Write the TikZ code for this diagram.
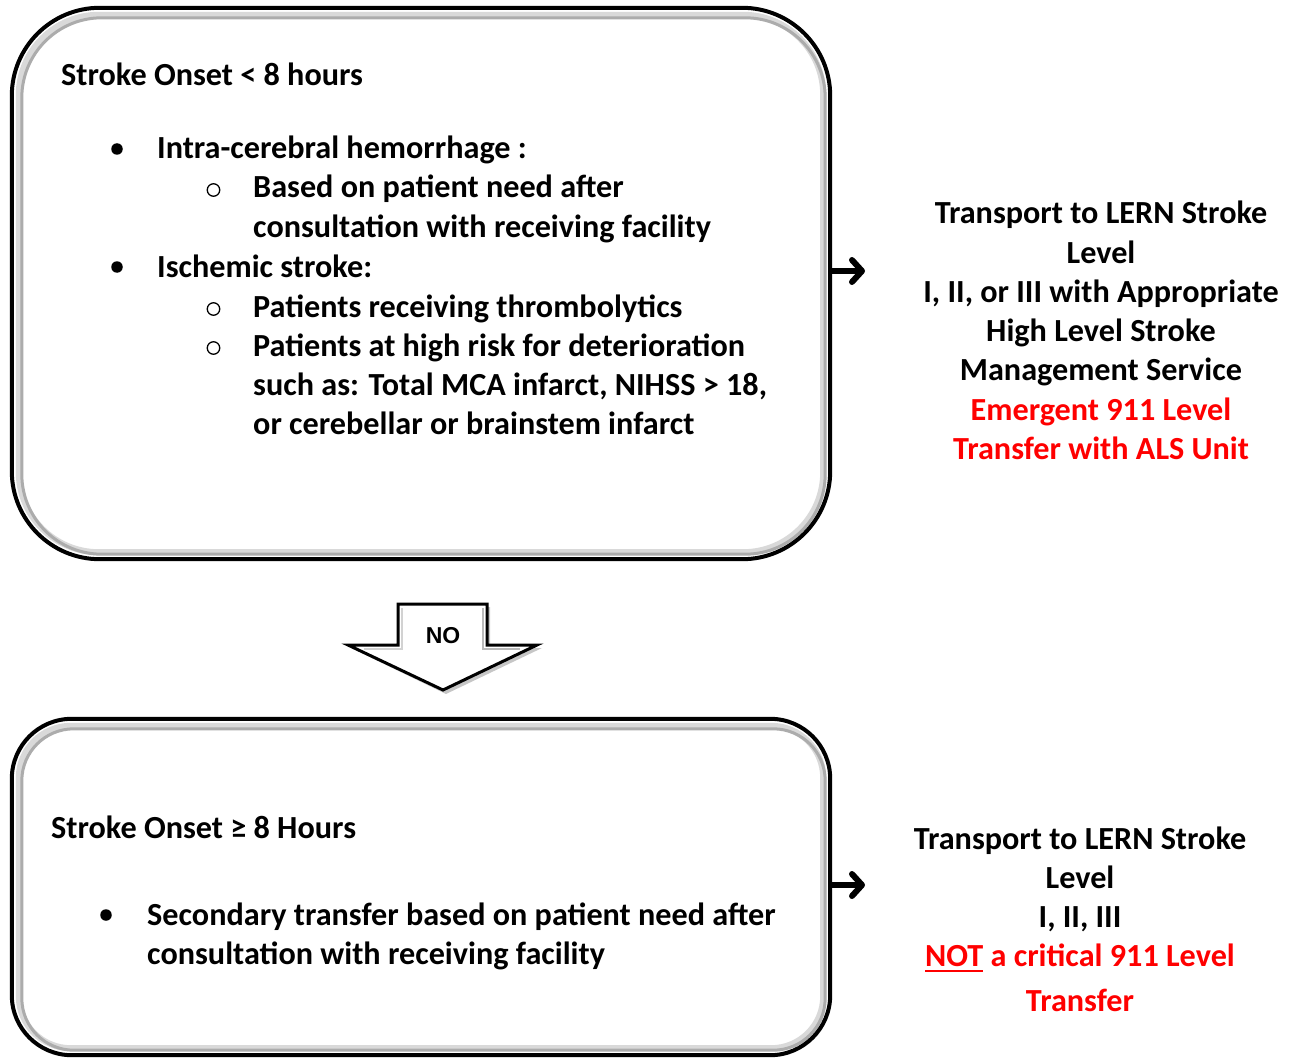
\documentclass[tikz,border=0pt]{standalone}
\usepackage{fontspec}
\setmainfont{Carlito}
\newfontfamily\arialf{Liberation Sans}
\usetikzlibrary{arrows.meta}
\definecolor{rred}{RGB}{255,0,0}
\newcommand\redul[1]{\setbox0\hbox{#1}\rlap{\color{rred}\rule[-6pt]{\wd0}{2.5pt}}\box0\relax}
\begin{document}
\begin{tikzpicture}[x=1pt,y=-1pt,
  txt/.style={font=\fontsize{32.2}{39}\selectfont\bfseries, inner sep=0pt, anchor=base west},
  ctr/.style={txt, anchor=base},
  bul/.style={circle, fill=black, inner sep=0pt, minimum size=11.5pt},
  circ/.style={circle, draw=black, line width=1.3pt, inner sep=0pt, minimum size=12.5pt},
  redtxt/.style={text=rred},
  boxfill/.style={fill=white, inner sep=0pt},
  boxline/.style={line width=4pt, black},
  bevlight/.style={line width=6pt, gray!30},
  bevdark/.style={line width=3pt, gray!65},
  side/.style={line width=5.5pt, -{Straight Barb[length=10pt,width=22pt,line width=6pt,round]}}
]
\useasboundingbox (0,0) rectangle (1300,1059);

% ---------- top box ----------
\node[boxfill, minimum width=818pt, minimum height=551pt] (topbox) at (421,283.5) {};
\draw[bevlight, rounded corners=80pt] ([shift={(7,7)}]topbox.north west) rectangle ([shift={(-7,-7)}]topbox.south east);
\draw[bevdark, rounded corners=80pt] ([shift={(10,10)}]topbox.north west) rectangle ([shift={(-5,-5)}]topbox.south east);
\draw[boxline, rounded corners=88pt] (topbox.north west) rectangle (topbox.south east);

\node[txt] (t0) at (61,86) {Stroke Onset < 8 hours};
\node[bul] (b1) at (117,149) {};
\node[txt] (t1) at (157,159) {Intra-cerebral hemorrhage :};
\node[circ] (c1) at (213.5,190) {};
\node[txt] (t2) at (253,198) {Based on patient need after};
\node[txt] (t3) at (253,237) {consultation with receiving facility};
\node[bul] (b2) at (117,267) {};
\node[txt] (t4) at (157,277) {Ischemic stroke:};
\node[circ] (c2) at (213.5,309) {};
\node[txt] (t5) at (253,317) {Patients receiving thrombolytics};
\node[circ] (c3) at (213.5,348) {};
\node[txt] (t6) at (253,356) {Patients at high risk for deterioration};
\node[txt] (t7) at (253,395) {such as: Total MCA infarct, NIHSS > 18,};
\node[txt] (t8) at (253,434) {or cerebellar or brainstem infarct};

% ---------- right text top ----------
\node[ctr] (r1) at (1101,224) {Transport to LERN Stroke};
\node[ctr] (r2) at (1101,263) {Level};
\node[ctr] (r3) at (1101,302) {I, II, or III with Appropriate};
\node[ctr] (r4) at (1101,341) {High Level Stroke};
\node[ctr] (r5) at (1101,380) {Management Service};
\node[ctr, redtxt] (r6) at (1101,420) {Emergent 911 Level};
\node[ctr, redtxt] (r7) at (1101,459) {Transfer with ALS Unit};

\coordinate (a1) at (865,271);
\draw[side] (topbox.east |- a1) -- (a1);

% ---------- NO arrow ----------
\fill[gray!45] (401,607) -- (490,607) -- (490,648) -- (542,648) -- (446,694) -- (351,648) -- (401,648) -- cycle;
\draw[line width=3pt, fill=white, line join=miter] (398,604) -- (487,604) -- (487,645) -- (537,645) -- (443,690) -- (348,645) -- (398,645) -- cycle;
\draw[line width=2pt, gray!35, line join=miter] (402,608) -- (402,649) -- (364,649);
\draw[line width=2pt, gray!55, line join=miter] (483,608) -- (483,649) -- (520,649);
\node[font=\fontsize{23}{26}\selectfont\arialf\bfseries, inner sep=0pt] (no) at (443,636) {NO};

% ---------- bottom box ----------
\node[boxfill, minimum width=818pt, minimum height=336pt] (botbox) at (421,887) {};
\draw[bevlight, rounded corners=52pt] ([shift={(7,7)}]botbox.north west) rectangle ([shift={(-7,-7)}]botbox.south east);
\draw[bevdark, rounded corners=52pt] ([shift={(10,10)}]botbox.north west) rectangle ([shift={(-5,-5)}]botbox.south east);
\draw[boxline, rounded corners=60pt] (botbox.north west) rectangle (botbox.south east);

\node[txt] (s0) at (51,838) {Stroke Onset ≥ 8 Hours};
\node[bul] (b3) at (106,915) {};
\node[txt] (s1) at (147,925) {Secondary transfer based on patient need after};
\node[txt] (s2) at (147,964) {consultation with receiving facility};

% ---------- right text bottom ----------
\node[ctr] (q1) at (1080,849) {Transport to LERN Stroke};
\node[ctr] (q2) at (1080,888) {Level};
\node[ctr] (q3) at (1080,927) {I, II, III};
\node[ctr, redtxt] (q4) at (1080,966) {\redul{NOT} a critical 911 Level};
\node[ctr, redtxt] (q5) at (1080,1011) {Transfer};

\coordinate (a2) at (865,885);
\draw[side] (botbox.east |- a2) -- (a2);
\end{tikzpicture}
\end{document}
